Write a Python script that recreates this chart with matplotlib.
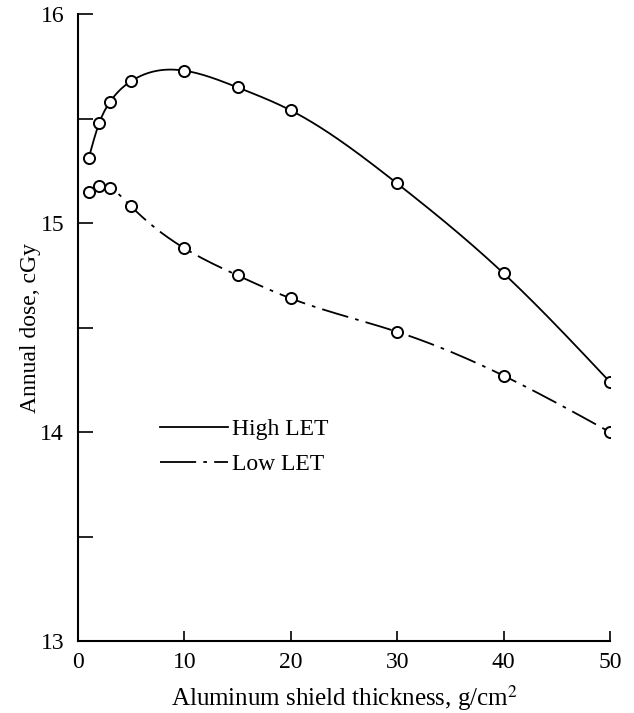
import numpy as np
import matplotlib
matplotlib.use('Agg')
import matplotlib.pyplot as plt
from matplotlib.lines import Line2D

plt.rcParams['font.family'] = 'Liberation Serif'
plt.rcParams['mathtext.fontset'] = 'stix'

# data
thickness = [1, 2, 3, 5, 10, 15, 20, 30, 40, 50]
high_let = [15.31, 15.48, 15.58, 15.68, 15.73, 15.65, 15.54, 15.19, 14.76, 14.24]
low_let = [15.15, 15.18, 15.17, 15.08, 14.88, 14.75, 14.64, 14.48, 14.27, 14.00]

x_ticks = [0, 10, 20, 30, 40, 50]
y_ticks = [13, 13.5, 14, 14.5, 15, 15.5, 16]
y_labels = ['13', '', '14', '', '15', '', '16']


def natural_spline(x, y, n=400):
    # plain natural cubic spline, just to draw a smooth line through the points
    x = np.asarray(x, float)
    y = np.asarray(y, float)
    k = len(x)
    h = np.diff(x)
    A = np.zeros((k, k))
    b = np.zeros(k)
    A[0, 0] = A[-1, -1] = 1
    for i in range(1, k - 1):
        A[i, i - 1] = h[i - 1]
        A[i, i] = 2 * (h[i - 1] + h[i])
        A[i, i + 1] = h[i]
        b[i] = 3 * ((y[i + 1] - y[i]) / h[i] - (y[i] - y[i - 1]) / h[i - 1])
    c = np.linalg.solve(A, b)
    xs = np.linspace(x[0], x[-1], n)
    idx = np.clip(np.searchsorted(x, xs) - 1, 0, k - 2)
    dx = xs - x[idx]
    bb = (y[idx + 1] - y[idx]) / h[idx] - h[idx] * (2 * c[idx] + c[idx + 1]) / 3
    dd = (c[idx + 1] - c[idx]) / (3 * h[idx])
    ys = y[idx] + bb * dx + c[idx] * dx ** 2 + dd * dx ** 3
    return xs, ys


fig = plt.figure(figsize=(6.34, 7.13), dpi=100)
ax = fig.add_axes([0.123, 0.101, 0.839, 0.879])

dash_dot = (0, (15, 4, 2, 4))

xs, ys = natural_spline(thickness, high_let)
ax.plot(xs, ys, color='black', lw=1.3)
xs, ys = natural_spline(thickness, low_let)
ax.plot(xs, ys, color='black', lw=1.3, linestyle=dash_dot)

ax.plot(thickness, high_let, 'o', ms=8, mfc='white', mec='black', mew=1.4)
ax.plot(thickness, low_let, 'o', ms=8, mfc='white', mec='black', mew=1.4)

ax.set_xlim(0, 50)
ax.set_ylim(13, 16)
ax.set_xticks(x_ticks)
ax.set_yticks(y_ticks)
ax.set_yticklabels(y_labels)

ax.spines['top'].set_visible(False)
ax.spines['right'].set_visible(False)
ax.spines['left'].set_linewidth(1.5)
ax.spines['bottom'].set_linewidth(1.5)
ax.tick_params(axis='y', direction='in', length=11, width=1.2, labelsize=17, pad=10)
ax.tick_params(axis='x', direction='in', length=7, width=1.2, labelsize=17, pad=8)

ax.set_xlabel(r'Aluminum shield thickness, g/cm$^{2}$', fontsize=18, labelpad=7)
ax.set_ylabel('Annual dose, cGy', fontsize=17)
ax.yaxis.set_label_coords(-0.07, 0.5)

handles = [Line2D([], [], color='black', lw=1.3),
           Line2D([], [], color='black', lw=1.3, linestyle=(0, (20, 4, 2, 4)))]
ax.legend(handles, ['High LET', 'Low LET'], loc='upper left',
          bbox_to_anchor=(0.2524, 0.4124), bbox_transform=fig.transFigure,
          frameon=False, fontsize=17, handlelength=2.9, handletextpad=0.15,
          borderpad=0, borderaxespad=0, labelspacing=0.55)

fig.savefig('out.png', dpi=100)
